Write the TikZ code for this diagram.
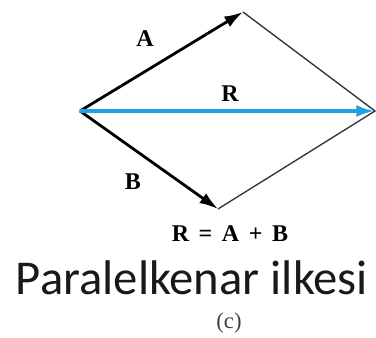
\documentclass[tikz,border=0pt]{standalone}
\usepackage{fontspec}
\setmainfont{Liberation Serif}
\newfontfamily\calibri{Carlito}
\usetikzlibrary{arrows.meta}
\definecolor{resblue}{RGB}{30,160,225}
\tikzset{
  vec/.style={-{Latex[length=14pt,width=9pt]}, line width=2.1pt},
  side/.style={line width=1pt, black!80},
  lbl/.style={font=\fontsize{18}{18}\selectfont\bfseries, inner sep=0pt}
}
\begin{document}
\begin{tikzpicture}[x=0.75pt,y=-0.75pt]
  % Rahmen
  \useasboundingbox (0,0) rectangle (376,338);

  % Eckpunkte
  \coordinate (O) at (80,111);
  \coordinate (A) at (243,12);
  \coordinate (R) at (375,111);
  \coordinate (B) at (218,209);

  % Seiten
  \draw[side] (A) -- (R) -- (B);

  % Vektoren
  \draw[vec] (O) -- (A);
  \draw[vec] (O) -- (B);
  \draw[vec, resblue, line width=3.2pt] (O) -- (R);

  % Beschriftungen
  \node[lbl] (labA) at (145,39) {A};
  \node[lbl] (labR) at (230,94) {R};
  \node[lbl] (labB) at (133,182) {B};

  % Gleichung und Titel
  \node[lbl, anchor=base] (eq) at (230,242) {R\hspace{0.4em}=\hspace{0.4em}A\hspace{0.4em}+\hspace{0.4em}B};
  \node[font=\calibri\fontsize{36.5}{36}\selectfont, anchor=base, inner sep=0pt, text=black!90] (title) at (192,295) {Paralelkenar ilkesi};
  \node[font=\fontsize{17}{17}\selectfont, anchor=base, inner sep=0pt, text=black!75] (sub) at (229,329) {(c)};
\end{tikzpicture}
\end{document}
